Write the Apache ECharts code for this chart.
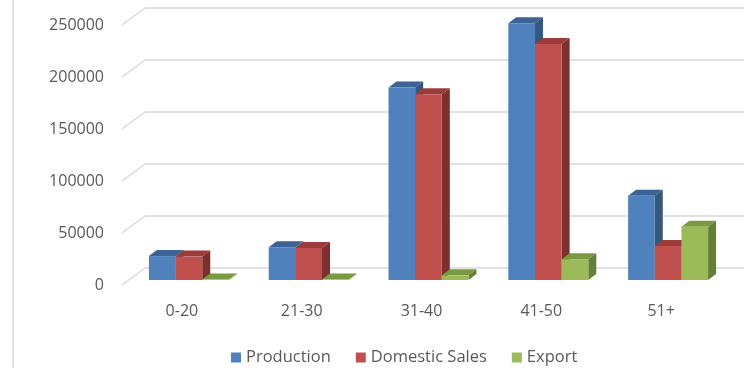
<!DOCTYPE html>
<html><head><meta charset="utf-8">
<script src="https://cdn.jsdelivr.net/npm/echarts@6/dist/echarts.min.js"></script>
<style>html,body{margin:0;padding:0;background:#fff}#c{width:749px;height:368px}</style>
</head><body><div id="c"></div>
<script>
const categories = ['0-20', '21-30', '31-40', '41-50', '51+'];
const production = [23000, 31500, 185000, 246800, 81000];
const domesticSales = [22500, 30800, 178500, 227000, 32700];
const exportValues = [400, 400, 4500, 20000, 51300];
const yTicks = [0, 50000, 100000, 150000, 200000, 250000];

const FONT = 'Open Sans';
const TXT = '#595959';
// projected depth of the floor and of each bar
const FLOOR_DX = 23, FLOOR_DY = 17;
const BAR_FRONT_DX = -16, BAR_FRONT_DY = 12;
const BAR_DX = 8, BAR_DY = -6;

const seriesDefs = [
  {name: 'Production', data: production, front: '#4F81BD', top: '#3B6494', side: '#34587F'},
  {name: 'Domestic Sales', data: domesticSales, front: '#C0504D', top: '#9B3C3A', side: '#7D2F2E'},
  {name: 'Export', data: exportValues, front: '#9BBB59', top: '#7A9A42', side: '#667F36'}
];

function barRenderer(idx, def) {
  return function (params, api) {
    const ci = api.value(0);
    const v = api.value(1);
    const top = api.coord([ci, v]);
    const base = api.coord([ci, 0]);
    const cw = api.size([1, 0])[0];
    const bw = cw * 0.2225;
    const cx = top[0] + BAR_FRONT_DX;
    const x0 = cx - 1.5 * bw + idx * bw;
    const x1 = x0 + bw;
    const yt = top[1] + BAR_FRONT_DY;
    const yb = base[1] + BAR_FRONT_DY;
    return {
      type: 'group',
      children: [
        {type: 'polygon', shape: {points: [[x0, yt], [x1, yt], [x1 + BAR_DX, yt + BAR_DY], [x0 + BAR_DX, yt + BAR_DY]]},
         style: {fill: def.top}},
        {type: 'polygon', shape: {points: [[x1, yt], [x1, yb], [x1 + BAR_DX, yb + BAR_DY], [x1 + BAR_DX, yt + BAR_DY]]},
         style: {fill: def.side}},
        {type: 'rect', shape: {x: x0, y: yt, width: bw, height: Math.max(yb - yt, 0)},
         style: {fill: def.front}}
      ]
    };
  };
}

const chart = echarts.init(document.getElementById('c'), null, {renderer: 'canvas'});
const series = seriesDefs.map((d, i) => ({
  name: d.name,
  type: 'custom',
  xAxisIndex: 0, yAxisIndex: 0,
  itemStyle: {color: d.front},
  renderItem: barRenderer(i, d),
  data: d.data.map((v, k) => [k, v]),
  z: 3
}));
series.push({
  name: 'floorDiag',
  type: 'custom',
  xAxisIndex: 0, yAxisIndex: 0,
  silent: true,
  renderItem: function (params, api) {
    const cs = params.coordSys;
    const y = api.coord([0, api.value(0)])[1];
    return {type: 'line', shape: {x1: cs.x - FLOOR_DX, y1: y + FLOOR_DY, x2: cs.x, y2: y},
            style: {stroke: '#D9D9D9', lineWidth: 1.5}};
  },
  data: yTicks.map(v => [v]),
  z: 1
});

chart.setOption({
  animation: false,
  backgroundColor: '#fff',
  textStyle: {fontFamily: FONT},
  grid: [
    {left: 145, right: 5, top: 8, bottom: 100},
    {left: 122, right: 28, top: 25, bottom: 83}
  ],
  xAxis: [
    {gridIndex: 0, type: 'category', data: categories, axisLine: {show: false}, axisTick: {show: false}, axisLabel: {show: false}},
    {gridIndex: 1, type: 'category', data: categories, axisLine: {show: false}, axisTick: {show: false},
     axisLabel: {color: TXT, fontFamily: FONT, fontSize: 16, margin: 18}}
  ],
  yAxis: [
    {gridIndex: 0, type: 'value', min: 0, max: 250000, interval: 50000,
     axisLine: {show: false}, axisTick: {show: false}, axisLabel: {show: false},
     splitLine: {lineStyle: {color: '#D9D9D9', width: 1.5}}},
    {gridIndex: 1, type: 'value', min: 0, max: 250000, interval: 50000,
     axisLine: {show: false}, axisTick: {show: false}, splitLine: {show: false},
     axisLabel: {color: TXT, fontFamily: FONT, fontSize: 16, margin: 18, formatter: v => String(v)}}
  ],
  legend: {
    data: seriesDefs.map(d => d.name),
    left: 226, top: 344,
    icon: 'rect', itemWidth: 10, itemHeight: 10, itemGap: 25,
    textStyle: {color: TXT, fontFamily: FONT, fontSize: 16.5}
  },
  graphic: [
    {type: 'line', shape: {x1: 13, y1: 0, x2: 13, y2: 368}, style: {stroke: '#D9D9D9', lineWidth: 1.5}, silent: true}
  ],
  series: series
});
</script>
</body></html>
